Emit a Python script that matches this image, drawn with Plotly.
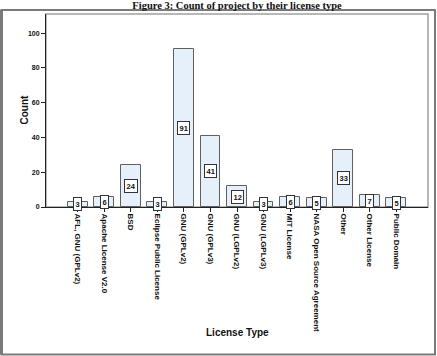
import plotly.graph_objects as go

categories = ["AFL, GNU (GPLv2)", "Apache License V2.0", "BSD", "Eclipse Public License",
              "GNU (GPLv2)", "GNU (GPLv3)", "GNU (LGPLv2)", "GNU (LGPLv3)", "MIT License",
              "NASA Open Source Agreement", "Other", "Other License", "Public Domain"]
counts = [3, 6, 24, 3, 91, 41, 12, 3, 6, 5, 33, 7, 5]
y_ticks = [0, 20, 40, 60, 80, 100]

W, H = 437, 356
L, R, T, B = 46, 9, 14, 149
pw, ph = W - L - R, H - T - B

def px(x):
    return (x - L) / pw

def py(y):
    return 1 - (y - T) / ph

fig = go.Figure()
fig.add_trace(go.Bar(
    x=list(range(len(categories))), y=counts, width=0.75,
    marker=dict(color="#E6F0FB", line=dict(color="#606060", width=1)),
    hoverinfo="skip",
))

font_b = dict(family="Liberation Sans, Arial", size=8, color="#111", weight="bold")

annotations = []
for i, v in enumerate(counts):
    annotations.append(dict(
        x=i, y=v / 2, xref="x", yref="y", text=str(v), showarrow=False,
        font=dict(family="Liberation Sans, Arial", size=7.5, color="#111", weight="bold"),
        bgcolor="white", bordercolor="#333", borderwidth=1, borderpad=1.5,
    ))
annotations.append(dict(
    x=px(16), y=py(110), xref="paper", yref="paper", text="Count", textangle=-90,
    showarrow=False, font=dict(family="Liberation Sans, Arial", size=10, color="#111", weight="bold"),
))
annotations.append(dict(
    x=px(237), y=py(340), xref="paper", yref="paper", text="License Type",
    showarrow=False, font=dict(family="Liberation Sans, Arial", size=10, color="#111", weight="bold"),
))

shapes = [
    # outer frame
    dict(type="rect", xref="paper", yref="paper", x0=px(1.5), x1=px(435), y0=py(354.5), y1=py(10),
         line=dict(color="#7a7a7a", width=2), layer="below"),
    dict(type="line", xref="paper", yref="paper", x0=px(1.5), x1=px(1.5), y0=py(354.5), y1=py(10),
         line=dict(color="#7a7a7a", width=3)),
    # plot area frame
    dict(type="rect", xref="paper", yref="paper", x0=0, x1=1, y0=0, y1=1,
         line=dict(color="#a0a0a0", width=1.5), layer="below"),
]

fig.update_layout(
    width=W, height=H,
    margin=dict(l=L, r=R, t=T, b=B),
    paper_bgcolor="white", plot_bgcolor="white",
    showlegend=False,
    title=dict(text="Figure 3: Count of project by their license type", x=0.5, xref="paper",
               y=1 - 5 / H, yref="container", yanchor="middle", xanchor="center",
               font=dict(family="Liberation Serif, DejaVu Serif", size=10.5, color="#111", weight="bold")),
    xaxis=dict(range=[-1.2, 13.2], tickmode="array", tickvals=list(range(len(categories))),
               ticktext=categories, tickangle=90, ticks="outside", ticklen=4, tickcolor="#222",
               showline=True, linecolor="#222", linewidth=1, showgrid=False, zeroline=False,
               tickfont=font_b, fixedrange=True),
    yaxis=dict(range=[0, 111], tickmode="array", tickvals=y_ticks, ticks="outside", ticklen=4,
               tickcolor="#222", showline=True, linecolor="#222", linewidth=1, showgrid=False,
               zeroline=False, tickfont=dict(family="Liberation Sans, Arial", size=7, color="#111", weight="bold"),
               fixedrange=True),
    annotations=annotations,
    shapes=shapes,
    bargap=0,
)

fig.write_html("out.html")
